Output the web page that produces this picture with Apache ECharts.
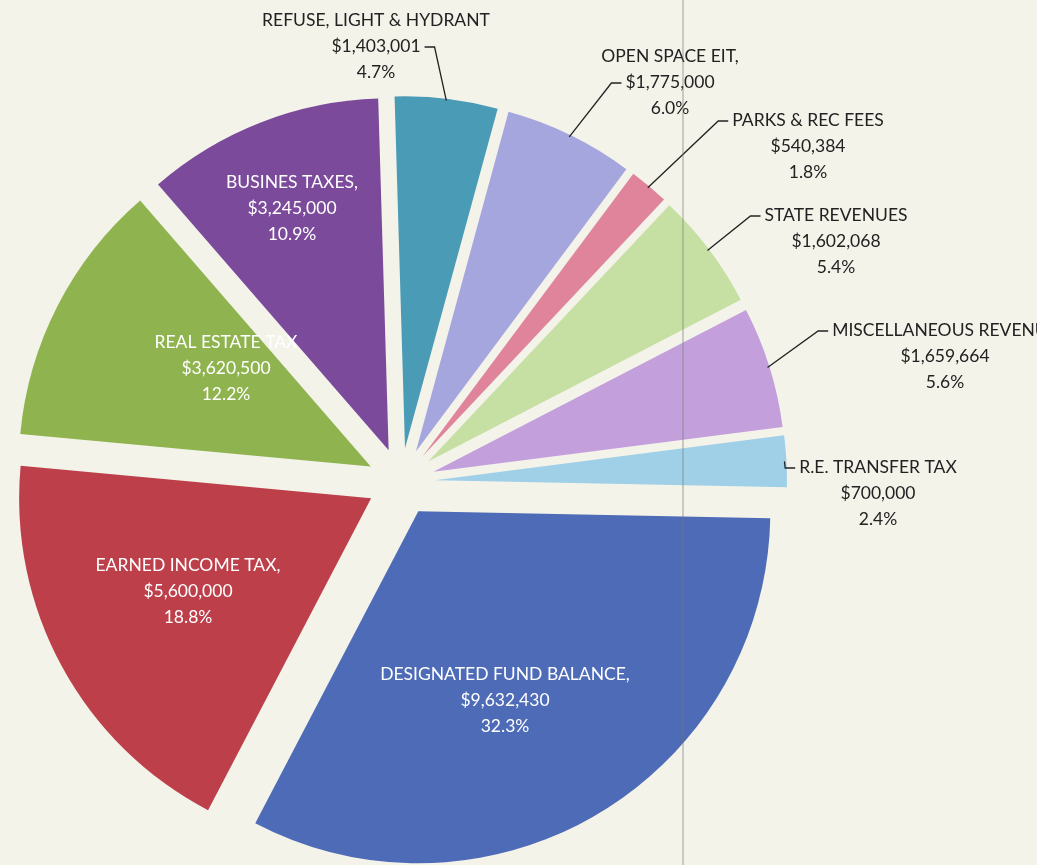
<!DOCTYPE html>
<html>
<head>
<meta charset="utf-8">
<script src="https://cdn.jsdelivr.net/npm/echarts@6/dist/echarts.min.js"></script>
<style>
  html, body { margin: 0; padding: 0; background: #f4f3ea; }
  #chart { width: 1037px; height: 865px; }
</style>
</head>
<body>
<div id="chart"></div>
<script>
// slices, clockwise from 12 o'clock
const categories = [
  "REFUSE, LIGHT & HYDRANT",
  "OPEN SPACE EIT,",
  "PARKS & REC FEES",
  "STATE REVENUES",
  "MISCELLANEOUS REVENUE",
  "R.E. TRANSFER TAX",
  "DESIGNATED FUND BALANCE,",
  "EARNED INCOME TAX,",
  "REAL ESTATE TAX",
  "BUSINES TAXES,"
];
const amounts = [1403001, 1775000, 540384, 1602068, 1659664, 700000, 9632430, 5600000, 3620500, 3245000];
const insideLabels = ["DESIGNATED FUND BALANCE,", "EARNED INCOME TAX,", "REAL ESTATE TAX", "BUSINES TAXES,"];

const colors = ["#4a9bb6", "#a6a6de", "#e0849c", "#c6dfa2", "#c3a0dc", "#9fd0e8", "#4d6bb7", "#bc3f4a", "#8fb44f", "#7b4a9b"];
// centre of each label block
const labelSpots = [[376, 46], [670, 82], [808, 146], [836, 241], [945, 356], [878, 493], [505, 700], [188, 591], [226, 368], [292, 208]];
// where the leader meets the label: side + line number (0 = first line)
const leaderEnds = [["right", 1], ["left", 1], ["left", 0], ["left", 0], ["left", 0], ["left", 0], null, null, null, null];

const fontSize = 17.5;
const fontFamily = "Lato";
const lineH = 26;

const total = amounts.reduce((a, b) => a + b, 0);
const labelLines = i => [
  categories[i],
  "$" + amounts[i].toLocaleString("en-US"),
  (amounts[i] / total * 100).toFixed(1) + "%"
];

const measureCtx = document.createElement("canvas").getContext("2d");
measureCtx.font = fontSize + "px " + fontFamily;
const textW = s => measureCtx.measureText(s).width;

const chart = echarts.init(document.getElementById("chart"));

const pieCenter = [401, 482];
const startAngle = 91.7;

chart.setOption({
  backgroundColor: "#f4f3ea",
  animation: false,
  graphic: [{
    type: "line",
    shape: { x1: 683, y1: 0, x2: 683, y2: 865 },
    style: { stroke: "rgba(120,120,110,0.45)", lineWidth: 1.5 },
    z: 100
  }],
  series: [
    {
      // exploded slices
      type: "pie",
      z: 1,
      center: pieCenter,
      radius: 352,
      startAngle: startAngle,
      clockwise: true,
      selectedMode: "multiple",
      selectedOffset: 34,
      silent: true,
      label: { show: false },
      labelLine: { show: false },
      data: categories.map((name, i) => ({
        name: name,
        value: amounts[i],
        selected: true,
        itemStyle: { color: colors[i] }
      }))
    },
    {
      // labels only
      type: "pie",
      z: 3,
      center: pieCenter,
      radius: 384,
      startAngle: startAngle,
      clockwise: true,
      silent: true,
      avoidLabelOverlap: false,
      minShowLabelAngle: 0,
      itemStyle: { color: "rgba(0,0,0,0)" },
      label: {
        formatter: p => labelLines(p.dataIndex).join("\n"),
        fontFamily: fontFamily,
        fontSize: fontSize,
        lineHeight: lineH,
        color: "#222",
        align: "center"
      },
      labelLine: {
        show: true,
        length: 20,
        length2: 10,
        lineStyle: { color: "#222", width: 1.3 }
      },
      labelLayout: function (p) {
        const i = p.dataIndex;
        const s = labelSpots[i];
        const out = { x: s[0], y: s[1], align: "center", verticalAlign: "middle" };
        const end = leaderEnds[i];
        if (end && p.labelLinePoints) {
          const lines = labelLines(i);
          const half = textW(lines[end[1]]) / 2;
          const y = s[1] + (end[1] - 1) * lineH + 1;
          const tip = end[0] === "right" ? [s[0] + half + 4, y] : [s[0] - half - 4, y];
          const turn = [tip[0] + (end[0] === "right" ? 10 : -10), y];
          out.labelLinePoints = [p.labelLinePoints[0], turn, tip];
        }
        return out;
      },
      data: categories.map((name, i) => {
        const inside = insideLabels.includes(name);
        return {
          name: name,
          value: amounts[i],
          label: inside ? { position: "inside", color: "#fff" } : {},
          labelLine: inside ? { show: false } : {}
        };
      })
    }
  ]
});
</script>
</body>
</html>
